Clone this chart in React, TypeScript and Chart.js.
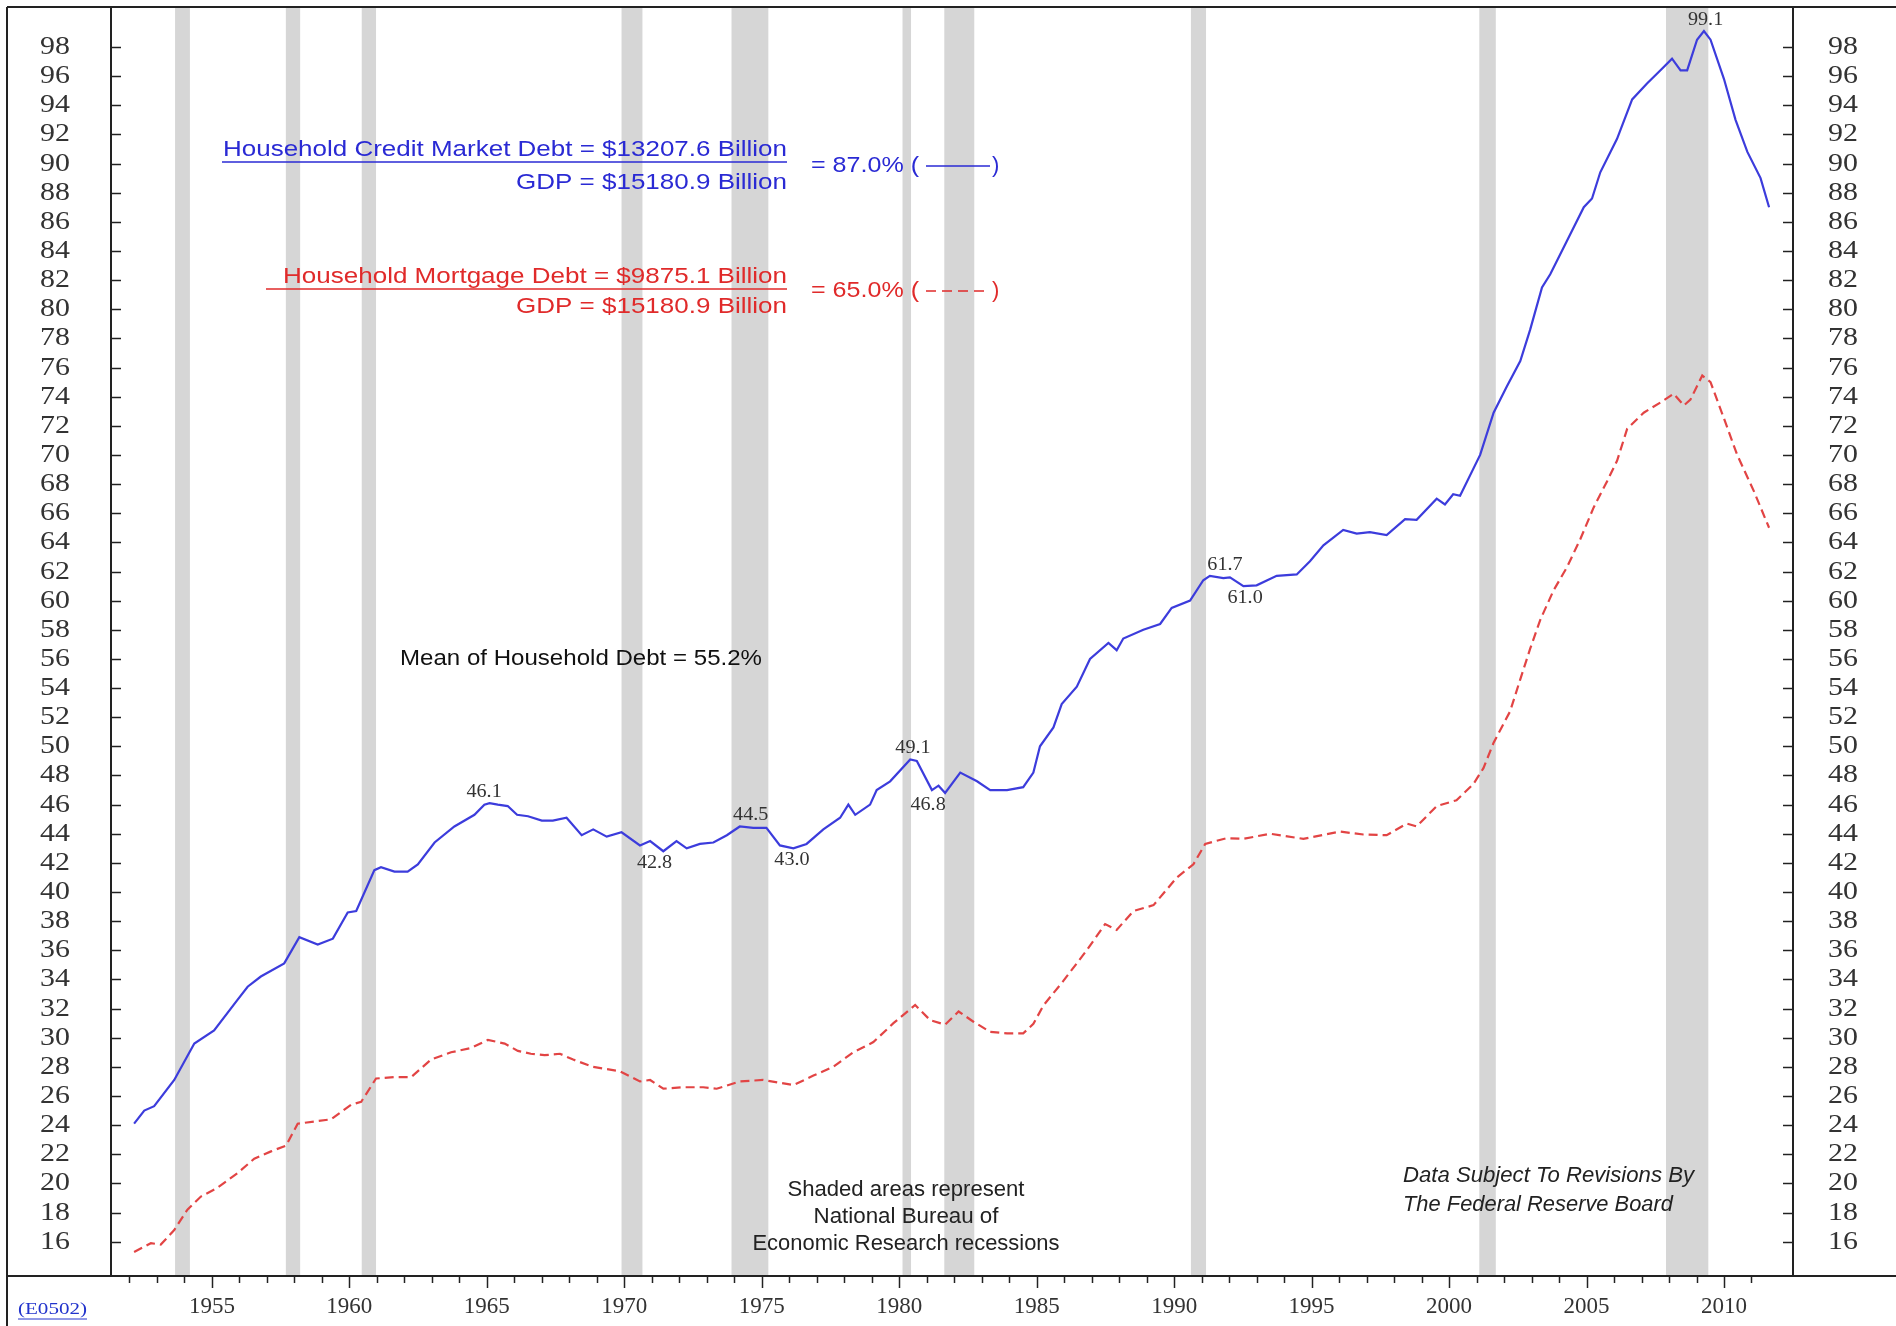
import React, { useEffect, useRef } from "react";
import { Chart, registerables } from "chart.js";

Chart.register(...registerables);

// ---- Data (ratio of household debt to GDP, %) ----
const creditYears = [
  1952.17, 1952.54, 1952.9, 1953.63, 1954.36, 1955.08, 1955.93, 1956.3, 1956.78, 1957.63,
  1958.18, 1958.85, 1959.4, 1959.94, 1960.25, 1960.91, 1961.15, 1961.64, 1962.12, 1962.49,
  1963.1, 1963.82, 1964.55, 1964.91, 1965.1, 1965.4, 1965.76, 1966.1, 1966.5, 1967.0,
  1967.4, 1967.9, 1968.45, 1968.87, 1969.36, 1969.9, 1970.57, 1970.94, 1971.42, 1971.9,
  1972.27, 1972.75, 1973.24, 1973.73, 1974.2, 1974.69, 1975.17, 1975.66, 1976.15, 1976.63,
  1977.24, 1977.85, 1978.15, 1978.4, 1978.94, 1979.18, 1979.67, 1980.4, 1980.64, 1981.19,
  1981.43, 1981.67, 1982.22, 1982.83, 1983.31, 1983.92, 1984.51, 1984.88, 1985.12, 1985.61,
  1985.91, 1986.46, 1986.94, 1987.61, 1987.91, 1988.15, 1988.88, 1989.49, 1989.91, 1990.58,
  1991.06, 1991.3, 1991.79, 1992.03, 1992.52, 1993.0, 1993.73, 1994.46, 1994.94, 1995.43,
  1996.15, 1996.64, 1997.12, 1997.73, 1998.4, 1998.82, 1999.55, 1999.85, 2000.15, 2000.4,
  2001.13, 2001.62, 2002.1, 2002.59, 2002.95, 2003.38, 2003.68, 2004.29, 2004.9, 2005.2,
  2005.5, 2006.11, 2006.66, 2007.2, 2007.69, 2008.11, 2008.42, 2008.66, 2009.02, 2009.27,
  2009.51, 2010.0, 2010.42, 2010.85, 2011.33, 2011.64,
];
const creditValues = [
  24.1, 25.0, 25.3, 27.1, 29.6, 30.5, 32.6, 33.5, 34.2, 35.1,
  36.9, 36.4, 36.8, 38.6, 38.7, 41.5, 41.7, 41.4, 41.4, 41.9,
  43.4, 44.5, 45.3, 46.0, 46.1, 46.0, 45.9, 45.3, 45.2, 44.9,
  44.9, 45.1, 43.9, 44.3, 43.8, 44.1, 43.2, 43.5, 42.8, 43.5,
  43.0, 43.3, 43.4, 43.9, 44.5, 44.4, 44.4, 43.2, 43.0, 43.3,
  44.3, 45.1, 46.0, 45.3, 46.0, 47.0, 47.6, 49.1, 49.0, 47.0,
  47.3, 46.8, 48.2, 47.6, 47.0, 47.0, 47.2, 48.2, 50.0, 51.3,
  52.9, 54.1, 56.0, 57.1, 56.6, 57.4, 58.0, 58.4, 59.5, 60.0,
  61.4, 61.7, 61.55, 61.6, 61.0, 61.05, 61.7, 61.8, 62.7, 63.8,
  64.85, 64.6, 64.7, 64.5, 65.6, 65.55, 67.0, 66.6, 67.3, 67.2,
  70.0, 72.9, 74.7, 76.45, 78.6, 81.5, 82.4, 84.7, 87.0, 87.6,
  89.4, 91.7, 94.4, 95.5, 96.4, 97.2, 96.4, 96.4, 98.5, 99.1,
  98.5, 95.8, 93.0, 90.8, 89.0, 87.0,
];
const mortgageYears = [
  1952.17, 1952.78, 1953.14, 1953.63, 1954.11, 1954.6, 1955.2, 1955.93, 1956.54, 1957.15,
  1957.7, 1958.12, 1958.73, 1959.33, 1960.06, 1960.43, 1960.97, 1961.64, 1962.25, 1962.97,
  1963.7, 1964.43, 1965.04, 1965.65, 1966.13, 1966.6, 1967.1, 1967.66, 1968.14, 1968.87,
  1969.84, 1970.57, 1970.94, 1971.42, 1972.15, 1972.87, 1973.36, 1974.2, 1975.05, 1976.15,
  1976.88, 1977.6, 1978.33, 1979.06, 1979.79, 1980.58, 1981.13, 1981.67, 1982.16, 1982.7,
  1983.31, 1983.92, 1984.51, 1984.88, 1985.24, 1985.97, 1986.82, 1987.49, 1987.91, 1988.52,
  1989.25, 1990.1, 1990.7, 1991.13, 1991.91, 1992.52, 1993.49, 1994.7, 1996.03, 1996.88,
  1997.73, 1998.46, 1998.82, 1999.55, 2000.27, 2000.88, 2001.25, 2001.62, 2002.22, 2002.59,
  2002.95, 2003.32, 2003.8, 2004.29, 2004.78, 2005.26, 2005.75, 2006.11, 2006.48, 2007.08,
  2007.69, 2008.17, 2008.54, 2008.78, 2009.21, 2009.51, 2010.0, 2010.48, 2011.09, 2011.64,
];
const mortgageValues = [
  15.3, 15.9, 15.8, 16.8, 18.2, 19.1, 19.7, 20.7, 21.7, 22.2,
  22.6, 24.1, 24.25, 24.4, 25.4, 25.6, 27.2, 27.3, 27.3, 28.5,
  29.0, 29.3, 29.85, 29.6, 29.1, 28.9, 28.8, 28.9, 28.5, 28.0,
  27.7, 27.0, 27.1, 26.5, 26.6, 26.6, 26.5, 27.0, 27.1, 26.75,
  27.4, 28.0, 29.0, 29.7, 31.0, 32.25, 31.2, 30.9, 31.8, 31.1,
  30.4, 30.3, 30.3, 30.95, 32.2, 33.9, 36.0, 37.8, 37.4, 38.7,
  39.1, 41.0, 41.9, 43.3, 43.7, 43.65, 44.0, 43.65, 44.15, 43.95,
  43.9, 44.7, 44.5, 45.9, 46.3, 47.4, 48.5, 50.25, 52.4, 54.6,
  56.7, 58.7, 60.7, 62.3, 64.25, 66.4, 68.2, 69.6, 71.8, 72.9,
  73.6, 74.2, 73.4, 73.8, 75.45, 75.0, 72.5, 70.0, 67.5, 65.0,
];

// NBER recessions (decimal years)
const recessionStarts = [1953.66, 1957.69, 1960.45, 1969.9, 1973.9, 1980.12, 1981.64, 1990.61, 2001.1, 2007.89];
const recessionEnds = [1954.2, 1958.21, 1960.97, 1970.66, 1975.24, 1980.43, 1982.73, 1991.16, 2001.7, 2009.43];

// Axis ticks
const yTickValues = [16, 18, 20, 22, 24, 26, 28, 30, 32, 34, 36, 38, 40, 42, 44, 46, 48, 50, 52, 54, 56, 58,
  60, 62, 64, 66, 68, 70, 72, 74, 76, 78, 80, 82, 84, 86, 88, 90, 92, 94, 96, 98];
const xLabelYears = [1955, 1960, 1965, 1970, 1975, 1980, 1985, 1990, 1995, 2000, 2005, 2010];
const xMinorYears = [1952, 1953, 1954, 1955, 1956, 1957, 1958, 1959, 1960, 1961, 1962, 1963, 1964, 1965,
  1966, 1967, 1968, 1969, 1970, 1971, 1972, 1973, 1974, 1975, 1976, 1977, 1978, 1979, 1980, 1981, 1982,
  1983, 1984, 1985, 1986, 1987, 1988, 1989, 1990, 1991, 1992, 1993, 1994, 1995, 1996, 1997, 1998, 1999,
  2000, 2001, 2002, 2003, 2004, 2005, 2006, 2007, 2008, 2009, 2010, 2011];

// Point annotations
const pointLabelTexts = ["99.1", "61.7", "61.0", "49.1", "46.8", "46.1", "44.5", "42.8", "43.0"];
const pointLabelYears = [2009.33, 1991.85, 1992.58, 1980.5, 1981.05, 1964.9, 1974.6, 1971.1, 1976.1];
const pointLabelValues = [99.1, 61.7, 61.0, 49.1, 46.8, 46.1, 44.5, 42.8, 43.0];
const pointLabelBelow = [false, false, true, false, true, false, false, true, true];

const X_MIN = 1951.33;
const X_MAX = 2012.51;
const Y_MIN = 13.646;
const Y_MAX = 100.745;

const BLUE_LINE = "#3c3cdc";
const RED_LINE = "#e24444";
const BLUE_TEXT = "#2a2ad4";
const RED_TEXT = "#e02a2a";
const SERIF = "'Liberation Serif', 'DejaVu Serif', serif";
const SANS = "'Liberation Sans', Arial, sans-serif";

function drawText(
  ctx: CanvasRenderingContext2D,
  text: string,
  x: number,
  y: number,
  align: "left" | "right" | "center",
  font: string,
  color: string,
  width?: number,
  stretch?: number
) {
  ctx.save();
  ctx.font = font;
  ctx.fillStyle = color;
  ctx.textBaseline = "middle";
  ctx.textAlign = "left";
  const w = ctx.measureText(text).width;
  const k = width ? width / w : stretch || 1;
  const left = align === "left" ? x : align === "right" ? x - w * k : x - (w * k) / 2;
  ctx.translate(left, y);
  ctx.scale(k, 1);
  ctx.fillText(text, 0, 0);
  ctx.restore();
}

function hline(ctx: CanvasRenderingContext2D, x1: number, x2: number, y: number, color: string, lw: number) {
  ctx.save();
  ctx.strokeStyle = color;
  ctx.lineWidth = lw;
  ctx.beginPath();
  ctx.moveTo(x1, y);
  ctx.lineTo(x2, y);
  ctx.stroke();
  ctx.restore();
}

function vline(ctx: CanvasRenderingContext2D, x: number, y1: number, y2: number, color: string, lw: number) {
  ctx.save();
  ctx.strokeStyle = color;
  ctx.lineWidth = lw;
  ctx.beginPath();
  ctx.moveTo(x, y1);
  ctx.lineTo(x, y2);
  ctx.stroke();
  ctx.restore();
}

const decorPlugin = {
  id: "decor",
  beforeDraw(chart: any) {
    const ctx = chart.ctx as CanvasRenderingContext2D;
    ctx.save();
    ctx.fillStyle = "#ffffff";
    ctx.fillRect(0, 0, chart.width, chart.height);
    ctx.restore();
  },
  beforeDatasetsDraw(chart: any) {
    const ctx = chart.ctx as CanvasRenderingContext2D;
    const xs = chart.scales.x;
    const area = chart.chartArea;
    ctx.save();
    ctx.fillStyle = "#d6d6d6";
    for (let i = 0; i < recessionStarts.length; i++) {
      const a = xs.getPixelForValue(recessionStarts[i]);
      const b = xs.getPixelForValue(recessionEnds[i]);
      ctx.fillRect(a, area.top, b - a, area.bottom - area.top);
    }
    ctx.restore();
  },
  afterDraw(chart: any) {
    const ctx = chart.ctx as CanvasRenderingContext2D;
    const xs = chart.scales.x;
    const ys = chart.scales.y;
    const area = chart.chartArea;
    const W = chart.width;
    const H = chart.height;
    const frame = "#222222";

    // frame & axes
    hline(ctx, 7, W, 7, frame, 2);
    vline(ctx, 7, 7, H, frame, 2);
    hline(ctx, 7, W, area.bottom, frame, 2);
    vline(ctx, area.left, 7, area.bottom, frame, 2);
    vline(ctx, area.right, 7, area.bottom, frame, 2);

    // y ticks (inward, both sides) and labels
    const yFont = `26px ${SERIF}`;
    for (const v of yTickValues) {
      const py = Math.round(ys.getPixelForValue(v)) + 0.5;
      hline(ctx, area.left, area.left + 10, py, frame, 1.5);
      hline(ctx, area.right - 10, area.right, py, frame, 1.5);
      drawText(ctx, String(v), area.left - 41, py, "right", yFont, "#333333", undefined, 1.15);
      drawText(ctx, String(v), area.right + 35, py, "left", yFont, "#333333", undefined, 1.15);
    }
    // x ticks (outward)
    for (const yr of xMinorYears) {
      const px = Math.round(xs.getPixelForValue(yr)) + 0.5;
      const len = yr % 5 === 0 ? 12 : 7;
      vline(ctx, px, area.bottom, area.bottom + len, frame, 1.5);
    }

    // point labels
    for (let i = 0; i < pointLabelTexts.length; i++) {
      const px = xs.getPixelForValue(pointLabelYears[i]);
      const py = ys.getPixelForValue(pointLabelValues[i]) + (pointLabelBelow[i] ? 12 : -11);
      drawText(ctx, pointLabelTexts[i], px, py, "center", `18px ${SERIF}`, "#333333", undefined, 1.12);
    }

    // legend ratios
    const f = `22px ${SANS}`;
    drawText(ctx, "Household Credit Market Debt = $13207.6 Billion", 787, 150, "right", f, BLUE_TEXT, 564);
    hline(ctx, 222, 787, 162, BLUE_TEXT, 1.5);
    drawText(ctx, "GDP = $15180.9 Billion", 787, 183, "right", f, BLUE_TEXT, 271);
    drawText(ctx, "= 87.0% (", 811, 166, "left", f, BLUE_TEXT, 108);
    hline(ctx, 926, 990, 166, BLUE_TEXT, 1.5);
    drawText(ctx, ")", 992, 166, "left", f, BLUE_TEXT);

    drawText(ctx, "Household Mortgage Debt = $9875.1 Billion", 787, 277, "right", f, RED_TEXT, 504);
    hline(ctx, 266, 787, 289, RED_TEXT, 1.5);
    drawText(ctx, "GDP = $15180.9 Billion", 787, 307, "right", f, RED_TEXT, 271);
    drawText(ctx, "= 65.0% (", 811, 291, "left", f, RED_TEXT, 108);
    ctx.save();
    ctx.setLineDash([10, 6]);
    hline(ctx, 926, 990, 291, RED_TEXT, 1.5);
    ctx.restore();
    drawText(ctx, ")", 992, 291, "left", f, RED_TEXT);

    drawText(ctx, "Mean of Household Debt = 55.2%", 400, 659, "left", f, "#111111", 362);

    drawText(ctx, "Shaded areas represent", 906, 1190, "center", f, "#222222", 237);
    drawText(ctx, "National Bureau of", 906, 1217, "center", f, "#222222", 185);
    drawText(ctx, "Economic Research recessions", 906, 1244, "center", f, "#222222", 307);

    const fi = `italic 22px ${SANS}`;
    drawText(ctx, "Data Subject To Revisions By", 1403, 1176, "left", fi, "#222222", 291);
    drawText(ctx, "The Federal Reserve Board", 1403, 1205, "left", fi, "#222222", 270);

    // code link
    drawText(ctx, "(E0502)", 18, 1310, "left", `17px ${SERIF}`, "#2233cc", 69);
    hline(ctx, 18, 87, 1319, "#2233cc", 1);
  },
};

export default function App() {
  const ref = useRef<HTMLCanvasElement>(null);

  useEffect(() => {
    const canvas = ref.current;
    if (!canvas) return;
    const creditData = creditYears.map((x, i) => ({ x, y: creditValues[i] }));
    const mortgageData = mortgageYears.map((x, i) => ({ x, y: mortgageValues[i] }));

    const yAxisCommon = {
      type: "linear" as const,
      min: Y_MIN,
      max: Y_MAX,
      grid: { display: false, drawTicks: false },
      border: { display: false },
      ticks: { display: false },
      afterBuildTicks: (s: any) => {
        s.ticks = yTickValues.map((v) => ({ value: v }));
      },
    };

    const chart = new Chart(canvas, {
      type: "line",
      data: {
        datasets: [
          {
            label: "Household Credit Market Debt / GDP",
            data: creditData,
            borderColor: BLUE_LINE,
            borderWidth: 2.2,
            pointRadius: 0,
            tension: 0,
            fill: false,
          },
          {
            label: "Household Mortgage Debt / GDP",
            data: mortgageData,
            borderColor: RED_LINE,
            borderWidth: 2.2,
            borderDash: [9, 5],
            pointRadius: 0,
            tension: 0,
            fill: false,
          },
        ],
      },
      plugins: [decorPlugin],
      options: {
        responsive: false,
        devicePixelRatio: 1,
        animation: false,
        layout: { padding: { left: 0, right: 0, top: 7, bottom: 0 } },
        plugins: {
          legend: { display: false },
          tooltip: { enabled: false },
          title: { display: false },
        },
        scales: {
          x: {
            type: "linear",
            position: "bottom",
            min: X_MIN,
            max: X_MAX,
            grid: { display: false, drawTicks: false },
            border: { display: false },
            afterBuildTicks: (s: any) => {
              s.ticks = xLabelYears.map((v) => ({ value: v }));
            },
            afterFit: (s: any) => {
              s.height = 50;
              s.paddingLeft = 0;
              s.paddingRight = 0;
            },
            ticks: {
              autoSkip: false,
              maxRotation: 0,
              minRotation: 0,
              padding: 17,
              color: "#333333",
              font: { family: SERIF, size: 23 },
              callback: (v: any) => String(v),
            },
          },
          y: {
            ...yAxisCommon,
            position: "left",
            afterFit: (s: any) => {
              s.width = 111;
              s.paddingTop = 0;
              s.paddingBottom = 0;
            },
          },
          y2: {
            ...yAxisCommon,
            position: "right",
            afterFit: (s: any) => {
              s.width = 103;
              s.paddingTop = 0;
              s.paddingBottom = 0;
            },
          },
        },
      },
    } as any);

    return () => chart.destroy();
  }, []);

  return (
    <div style={{ position: "fixed", left: 0, top: 0, width: 1896, height: 1326, background: "#fff" }}>
      <canvas ref={ref} width={1896} height={1326} style={{ display: "block", width: 1896, height: 1326 }} />
    </div>
  );
}
